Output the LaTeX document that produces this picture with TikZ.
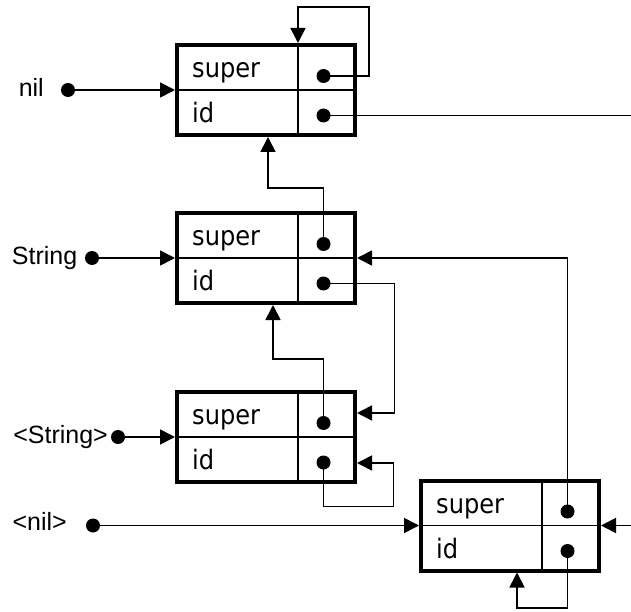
\documentclass[tikz,border=0pt]{standalone}
\usepackage{fontspec}
\setmainfont{DejaVu Sans Condensed}
\newfontfamily\lblfont{Liberation Sans}
\usetikzlibrary{arrows.meta}
\begin{document}
\begin{tikzpicture}[x=1pt,y=-1pt,
  objbox/.style={draw, line width=4pt, minimum width=178pt, minimum height=90pt, inner sep=0pt},
  divider/.style={line width=1.7pt},
  ptr/.style={circle, fill, inner sep=0pt, minimum size=14pt},
  link/.style={line width=1.7pt},
  arr/.style={link, -{Triangle[length=15pt,width=15pt]}},
  field/.style={anchor=base west, inner sep=0pt, font=\fontsize{26.8}{30}\selectfont},
  lbl/.style={anchor=base east, inner sep=0pt, font=\lblfont\fontsize{25}{28}\selectfont},
]
\useasboundingbox (0,0) rectangle (631,612);

% object records: two fields, each with a pointer slot
\foreach \n/\cx/\cy in {b1/266/90, b2/266/258, b3/266/437, b4/510/525.5} {
  \node[objbox] (\n) at (\cx,\cy) {};
  \draw[divider] (\n.west) -- (\n.east);
  \draw[divider] ([xshift=32pt]\n.north) -- ([xshift=32pt]\n.south);
  \node[field] (\n-st) at (\cx-74,\cy-12.5) {super};
  \node[field] (\n-it) at (\cx-74,\cy+32.5) {id};
  \node[ptr] (\n-s) at (\cx+57.5,\cy-14) {};
  \node[ptr] (\n-i) at (\cx+57.5,\cy+25.5) {};
}

% named roots
\node[lbl] (l1) at (44,96.5) {nil};
\node[ptr] (d1) at (68,90) {};
\node[lbl] (l2) at (77.5,264) {String};
\node[ptr] (d2) at (92,258) {};
\node[lbl] (l3) at (108,443) {<String>};
\node[ptr] (d3) at (118,437) {};
\node[lbl] (l4) at (67,530.5) {<nil>};
\node[ptr] (d4) at (93,525.5) {};

\draw[arr] (d1) -- (b1.west);
\draw[arr] (d2) -- (b2.west);
\draw[arr] (d3) -- (b3.west);
\draw[arr] (d4) -- (b4.west);

% entry points on the records
\coordinate (b1top) at ([xshift=32pt]b1.north);
\coordinate (b1bot) at ([xshift=2pt]b1.south);
\coordinate (b2bot) at ([xshift=7pt]b2.south);
\coordinate (b3inA) at ([yshift=24pt]b3.east);
\coordinate (b3inB) at ([yshift=-26pt]b3.east);
\coordinate (b4bot) at ([xshift=7pt]b4.south);
\coordinate (r1) at (631,115.5);
\coordinate (r4) at (631,525.5);

% pointers
\draw[arr] (b1-s.center) -| (369,7) -| (b1top);
\draw[link] (b1-i.center) -- (r1);
\draw[arr] (b2-s.center) -- ++(0,-56) -| (b1bot);
\draw[arr] (b3-s.center) -- ++(0,-64) -| (b2bot);
\draw[arr] (b2-i.center) -- ++(71,0) |- (b3inA);
\draw[arr] (b3-i.center) -- ++(0,44) -- ++(70,0) |- (b3inB);
\draw[arr] (b4-s.center) |- (b2.east);
\draw[arr] (r4) -- (b4.east);
\draw[arr] (b4-i.center) -- ++(0,57) -| (b4bot);
\end{tikzpicture}
\end{document}
